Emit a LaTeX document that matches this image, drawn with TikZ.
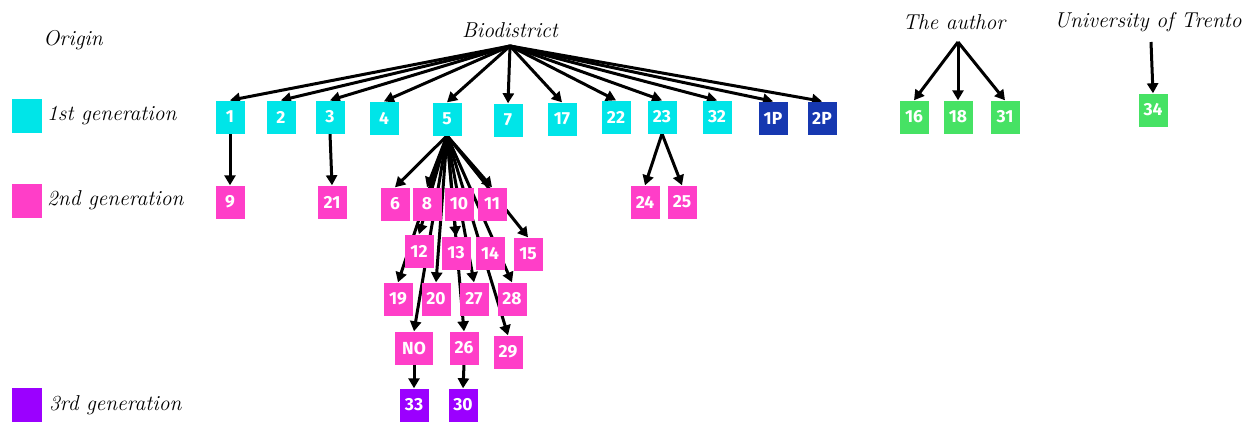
\documentclass[tikz,border=0pt]{standalone}
\usepackage{fontspec}
\setmainfont{Latin Modern Roman}
\newfontfamily\boxfont{Fira Sans}
\usetikzlibrary{arrows.meta}
\definecolor{cgen}{RGB}{0,229,232}
\definecolor{pgen}{RGB}{255,62,200}
\definecolor{vgen}{RGB}{155,0,255}
\definecolor{bgen}{RGB}{22,56,176}
\definecolor{ggen}{RGB}{70,226,100}
\pgfdeclarelayer{bg}
\pgfsetlayers{bg,main}
\tikzset{
  bx/.style={minimum width=29pt,minimum height=33pt,inner sep=0pt,text=white,font=\boxfont\bfseries\fontsize{17.5}{17.5}\selectfont},
  c1/.style={bx,fill=cgen},
  c2/.style={bx,fill=pgen},
  c3/.style={bx,fill=vgen},
  cb/.style={bx,fill=bgen},
  cg/.style={bx,fill=ggen},
  leg/.style={minimum width=30pt,minimum height=34pt,inner sep=0pt},
  lbl/.style={font=\itshape\fontsize{21.5}{21.5}\selectfont,inner sep=0pt},
  arr/.style={line width=3pt,-{Triangle[length=10pt,width=11pt]}},
}
\begin{document}
\begin{tikzpicture}[x=1pt,y=-1pt]
\useasboundingbox (0,0) rectangle (1247,421);
% legend
\node[lbl] (origin) at (73,40) {Origin};
\node[leg,fill=cgen] (l1) at (27,116) {};
\node[leg,fill=pgen] (l2) at (27,201) {};
\node[leg,fill=vgen] (l3) at (27,405) {};
\node[lbl,anchor=west] (t1) at (47,116) {1st generation};
\node[lbl,anchor=west] (t2) at (47,200) {2nd generation};
\node[lbl,anchor=west] (t3) at (49,405) {3rd generation};
% sources
\node[lbl] (bio) at (510,30) {Biodistrict};
\coordinate (bioc) at (510,46);
\node[lbl] (auth) at (954,22) {The author};
\coordinate (authc) at (958,42);
\node[lbl] (unit) at (1148,22) {University of Trento};
\coordinate (unitc) at (1151,42);
% first generation
\node[c1] (n1) at (230,117) {1};
\node[c1] (n2) at (281,117) {2};
\node[c1] (n3) at (330,117) {3};
\node[c1] (n4) at (384,118) {4};
\node[c1] (n5) at (447,119) {5};
\node[c1] (n7) at (508,120) {7};
\node[c1] (n17) at (562,119) {17};
\node[c1] (n22) at (616,117) {22};
\node[c1] (n23) at (662,117) {23};
\node[c1] (n32) at (717,117) {32};
\node[cb] (n1P) at (773,118) {1P};
\node[cb] (n2P) at (822,118) {2P};
\node[cg] (n16) at (914,117) {16};
\node[cg] (n18) at (958,117) {18};
\node[cg] (n31) at (1005,117) {31};
\node[cg] (n34) at (1153,110) {34};
% second generation
\node[c2] (n9) at (230,202) {9};
\node[c2] (n21) at (332,202) {21};
\node[c2] (n6) at (395,204) {6};
\node[c2] (n8) at (427,204) {8};
\node[c2] (n10) at (459,204) {10};
\node[c2] (n11) at (492,204) {11};
\node[c2] (n24) at (645,202) {24};
\node[c2] (n25) at (682,202) {25};
\node[c2] (n12) at (419,251) {12};
\node[c2] (n13) at (456,253) {13};
\node[c2] (n14) at (490,253) {14};
\node[c2] (n15) at (528,254) {15};
\node[c2] (n19) at (398,299) {19};
\node[c2] (n20) at (436,299) {20};
\node[c2] (n27) at (474,299) {27};
\node[c2] (n28) at (512,299) {28};
\node[c2,minimum width=38pt] (nNO) at (414,348) {NO};
\node[c2] (n26) at (464,348) {26};
\node[c2] (n29) at (508,352) {29};
% third generation
\node[c3] (n33) at (414,405) {33};
\node[c3] (n30) at (463,405) {30};
% connectors
\begin{pgfonlayer}{bg}
\foreach \t in {n1,n2,n3,n4,n5,n7,n17,n22,n23,n32,n1P,n2P}
  \draw[arr] (bioc) -- (\t.north);
\foreach \t in {n16,n18,n31}
  \draw[arr] (authc) -- (\t.north);
\draw[arr] (unitc) -- (n34.north);
\draw[arr] (n1.south) -- (n9.north);
\draw[arr] (n3.south) -- (n21.north);
\draw[arr] (n23.south) -- (n24.north);
\draw[arr] (n23.south) -- (n25.north);
\foreach \t in {n6,n8,n11,n12,n13,n15,n19,n20,n27,n28,nNO,n26,n29}
  \draw[arr] (n5.south) -- (\t.north);
\draw[arr] (nNO.south) -- (n33.north);
\draw[arr] (n26.south) -- (n30.north);
\end{pgfonlayer}
\end{tikzpicture}
\end{document}
